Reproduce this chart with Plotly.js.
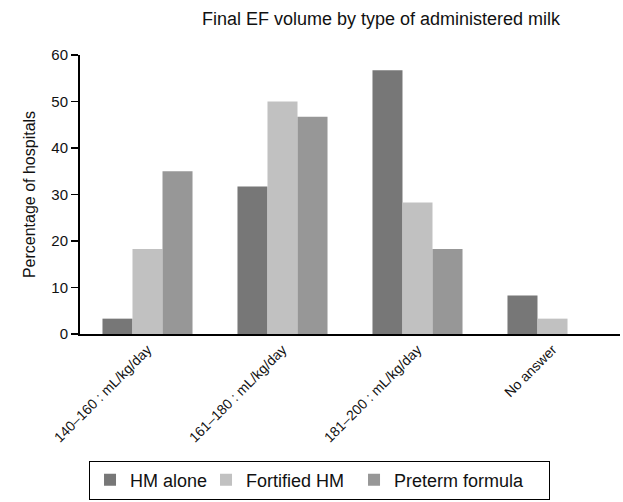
<!DOCTYPE html>
<html>
<head>
<meta charset="utf-8">
<script src="https://cdn.plot.ly/plotly-3.0.1.min.js"></script>
<style>html,body{margin:0;padding:0;background:#fff;}#chart{width:623px;height:502px;}</style>
</head>
<body>
<div id="chart"></div>
<script>
const categories = ["140–160 : mL/kg/day", "161–180 : mL/kg/day", "181–200 : mL/kg/day", "No answer"];
const seriesNames = ["HM alone", "Fortified HM", "Preterm formula"];
const hmAlone = [3.3, 31.7, 56.7, 8.3];
const fortifiedHM = [18.3, 50.0, 28.3, 3.3];
const pretermFormula = [35.0, 46.7, 18.3, 0];
const colors = ["#777777", "#c1c1c1", "#979797"];
const legendWidths = [71, 103, 150];

const font = "'Liberation Sans', Arial, Helvetica, sans-serif";
const traces = [hmAlone, fortifiedHM, pretermFormula].map((vals, i) => ({
  type: "bar",
  name: seriesNames[i],
  x: categories,
  y: vals,
  marker: {color: colors[i], line: {width: 0}},
  legendwidth: legendWidths[i],
  hoverinfo: "none"
}));

const layout = {
  width: 623, height: 502,
  margin: {l: 80, r: 3, t: 55, b: 165},
  paper_bgcolor: "#fff", plot_bgcolor: "#fff",
  font: {family: font, color: "#111", size: 16},
  title: {text: "Final EF volume by type of administered milk", font: {size: 18, family: font, color: "#111"},
          x: 381/623, xanchor: "center", xref: "container", y: 1 - 19/502, yanchor: "middle", yref: "container"},
  barmode: "group",
  bargap: 0.333,
  bargroupgap: 0,
  xaxis: {
    type: "category",
    range: [-0.5, 3.5],
    showline: true, linecolor: "#000", linewidth: 2,
    ticks: "", showgrid: false, zeroline: false,
    tickangle: -45,
    tickfont: {size: 14, family: font, color: "#111"}
  },
  yaxis: {
    range: [0, 60], dtick: 10,
    showline: true, linecolor: "#000", linewidth: 2,
    ticks: "outside", ticklen: 7, tickwidth: 1.5, tickcolor: "#000",
    showgrid: false, zeroline: false,
    tickfont: {size: 15, family: font, color: "#111"},
    title: {text: "Percentage of hospitals", font: {size: 16, family: font, color: "#111"}, standoff: 12}
  },
  showlegend: true,
  legend: {
    orientation: "h",
    x: 0.0167, xanchor: "left",
    y: -0.454, yanchor: "top",
    bordercolor: "#000", borderwidth: 1,
    font: {size: 18, family: font, color: "#111"},
    itemwidth: 30,
    traceorder: "normal"
  }
};

Plotly.newPlot("chart", traces, layout, {displayModeBar: false, staticPlot: true});
</script>
</body>
</html>
